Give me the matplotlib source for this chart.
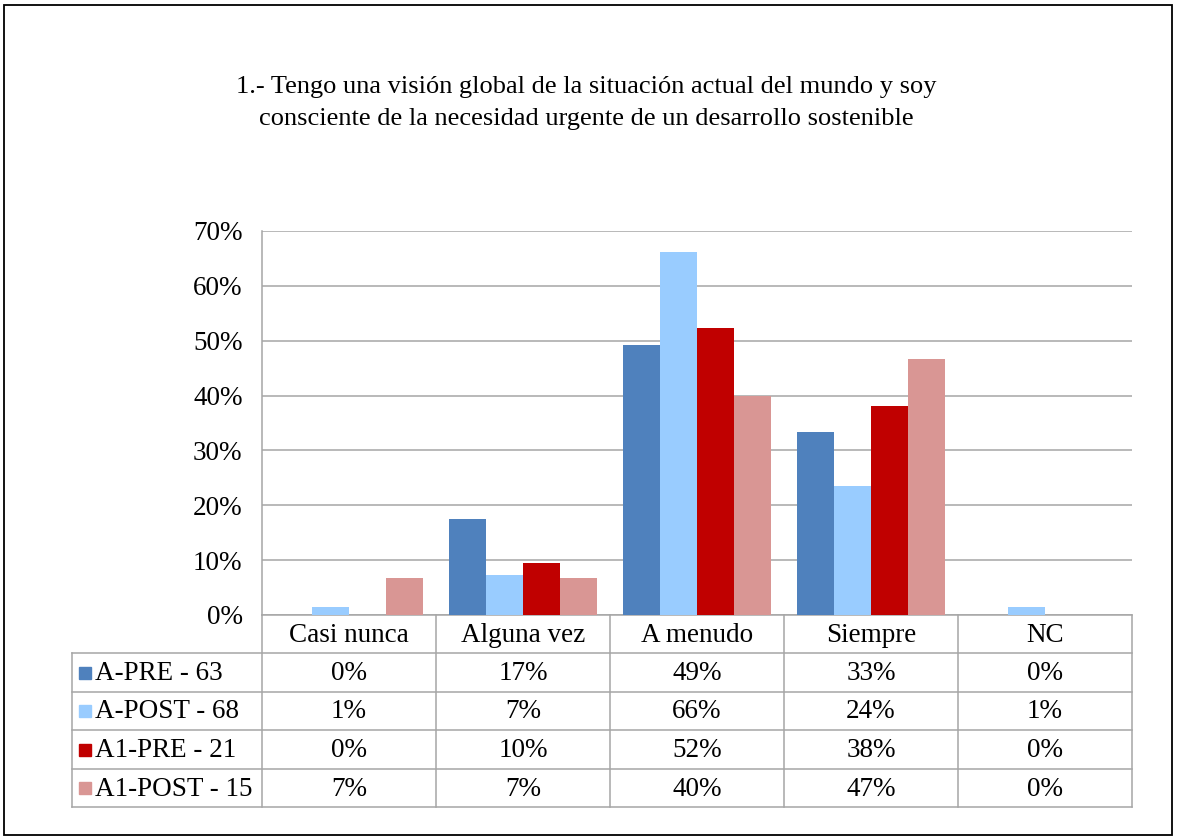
import matplotlib
matplotlib.use("Agg")
import matplotlib.pyplot as plt
from matplotlib.transforms import blended_transform_factory
from matplotlib.patches import Rectangle
import numpy as np

plt.rcParams['font.family'] = ['Liberation Serif', 'DejaVu Serif']

title = ("1.- Tengo una visión global de la situación actual del mundo y soy\n"
         "consciente de la necesidad urgente de un desarrollo sostenible")
categories = ["Casi nunca", "Alguna vez", "A menudo", "Siempre", "NC"]
series_names = ["A-PRE - 63", "A-POST - 68", "A1-PRE - 21", "A1-POST - 15"]
a_pre = [0.0, 17.46, 49.21, 33.33, 0.0]
a_post = [1.47, 7.35, 66.18, 23.53, 1.47]
a1_pre = [0.0, 9.52, 52.38, 38.10, 0.0]
a1_post = [6.67, 6.67, 40.0, 46.67, 0.0]
yticks = [0, 10, 20, 30, 40, 50, 60, 70]

series = [a_pre, a_post, a1_pre, a1_post]
colors = ["#4F81BD", "#99CCFF", "#C00000", "#D99694"]

W, H = 1177, 840
fig = plt.figure(figsize=(W / 100, H / 100), dpi=100)

# overlay in pixel coordinates for the frame, title and data table
ov = fig.add_axes([0, 0, 1, 1])
ov.set_xlim(0, W)
ov.set_ylim(H, 0)
ov.axis("off")
ov.add_patch(Rectangle((4, 5), W - 9, H - 10, fill=False, ec="black", lw=1.3))
ov.text(586, 103, title, ha="center", va="center", fontsize=19,
        linespacing=1.55, color="black")

# bar plot area
left, right, top, bottom = 262, 1132, 231, 615
ax = fig.add_axes([left / W, 1 - bottom / H, (right - left) / W, (bottom - top) / H],
                  zorder=2)
ax.patch.set_alpha(0)
n = len(categories)
x = np.arange(n)
bw = 0.2126
for i, (vals, col) in enumerate(zip(series, colors)):
    ax.bar(x + (i - 1.5) * bw, vals, width=bw, color=col, zorder=3)
ax.set_xlim(-0.5, n - 0.5)
ax.set_ylim(0, 70)
ax.set_yticks(yticks)
ax.set_yticklabels([f"{t}%" for t in yticks], fontsize=19.5)
ax.tick_params(axis="y", length=0, pad=14)
ax.set_xticks([])
ax.grid(axis="y", color="#A6A6A6", lw=1.1, zorder=0)
for s in ["top", "right", "bottom"]:
    ax.spines[s].set_visible(False)
ax.spines["left"].set_color("#A6A6A6")
ax.spines["left"].set_linewidth(1.1)

# data table under the bars
tr = blended_transform_factory(ax.transData, ov.transData)
grid_c = "#A6A6A6"
row_y = [615, 653, 692, 730, 769, 807]
tbl_left = 72
edges = np.arange(n + 1) - 0.5
ov.plot([left, right], [row_y[0]] * 2, color=grid_c, lw=1.1, zorder=1)
for yy in row_y[1:]:
    ov.plot([tbl_left, right], [yy] * 2, color=grid_c, lw=1.1, zorder=1)
for e in edges:
    ov.plot([e, e], [row_y[0], row_y[-1]], color=grid_c, lw=1.1,
            transform=tr, zorder=1)
ov.plot([tbl_left, tbl_left], [row_y[1], row_y[-1]], color=grid_c, lw=1.1, zorder=1)

fs = 19.5
for j, cat in enumerate(categories):
    ov.text(j, (row_y[0] + row_y[1]) / 2 + 1, cat, transform=tr, ha="center",
            va="center", fontsize=fs)
for i, (name, vals, col) in enumerate(zip(series_names, series, colors)):
    yc = (row_y[i + 1] + row_y[i + 2]) / 2
    ov.add_patch(Rectangle((79, yc - 6), 12, 12, color=col))
    ov.text(95, yc + 1, name, ha="left", va="center", fontsize=fs)
    for j, v in enumerate(vals):
        ov.text(j, yc + 1, f"{v:.0f}%", transform=tr, ha="center", va="center",
                fontsize=fs)

fig.savefig("out.png", dpi=100)
